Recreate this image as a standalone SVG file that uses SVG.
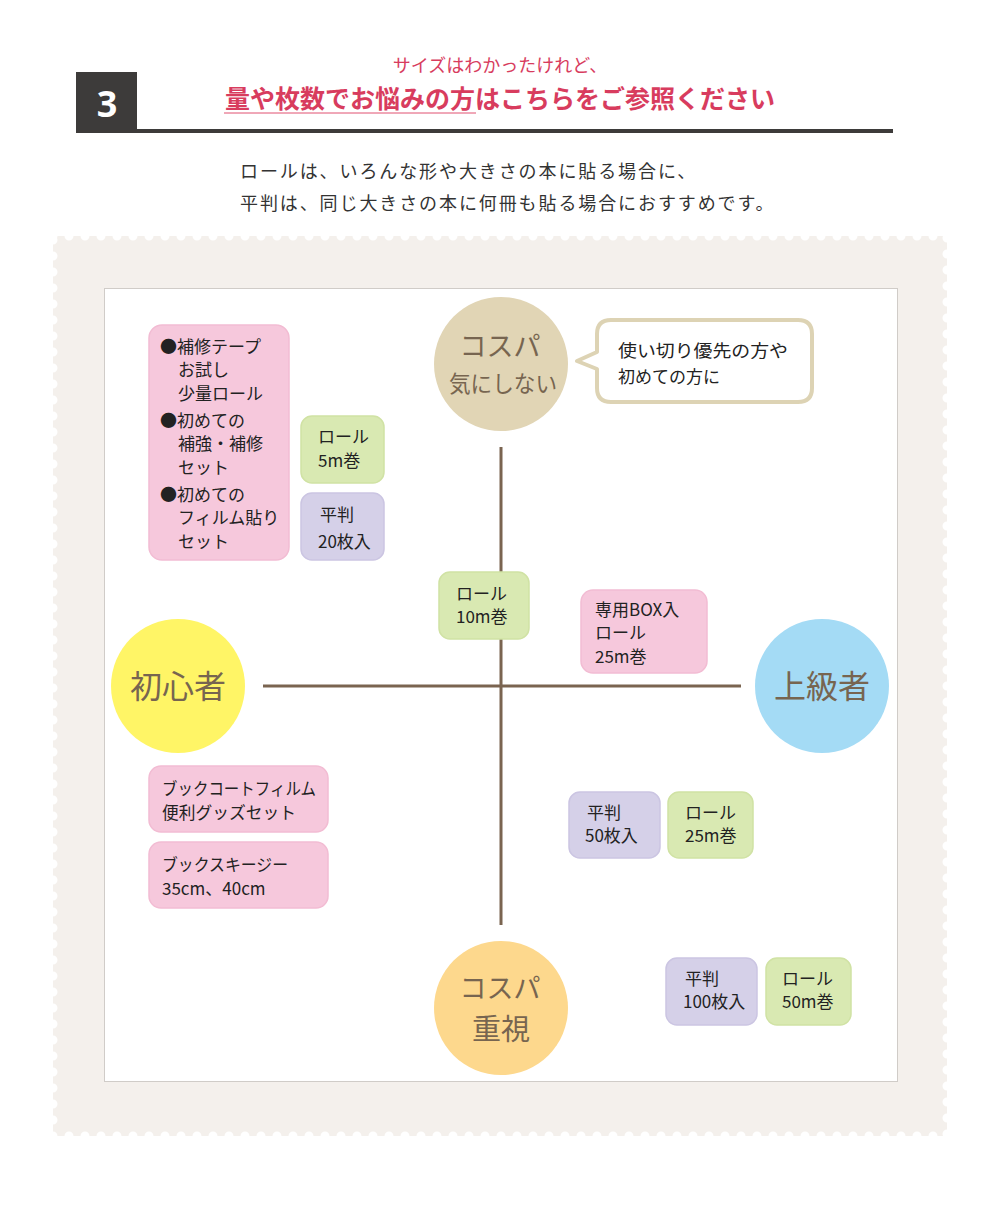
<svg xmlns="http://www.w3.org/2000/svg" width="1000" height="1231" viewBox="0 0 1000 1231">
<defs>
<style>
.jp{font-family:"Noto Sans CJK JP","Noto Sans",sans-serif}
.red{fill:#d83c5e}
.body{fill:#333;font-size:18px;letter-spacing:1.9px}
.bx{fill:#222;font-size:17px}
.ct{fill:#776550;text-anchor:middle}
.pink{fill:#f6c8dc;stroke:#f2bcd3;stroke-width:1.5}
.green{fill:#d9e9b2;stroke:#d0e2a4;stroke-width:1.5}
.purple{fill:#d5d0e8;stroke:#cbc5e2;stroke-width:1.5}
.axis{stroke:#7a6450;stroke-width:3}
</style>
</defs>
<rect width="1000" height="1231" fill="#fff"/>
<g id="header">
<rect x="76" y="72" width="61" height="61" fill="#3d3b3a"/>
<text x="107" y="117" text-anchor="middle" font-family="Noto Sans, sans-serif" font-weight="bold" font-size="36" fill="#fff">3</text>
<rect x="137" y="129" width="756" height="4" fill="#3d3b3a"/>
<text class="jp red" x="500" y="72" text-anchor="middle" font-size="18">サイズはわかったけれど、</text>
<text class="jp red" x="500" y="108" text-anchor="middle" font-size="25" font-weight="bold">量や枚数でお悩みの方はこちらをご参照ください</text>
<line x1="224" y1="113" x2="476" y2="113" stroke="#e05070" stroke-width="1"/>
</g>
<g id="intro" class="jp body">
<text x="240" y="178">ロールは、いろんな形や大きさの本に貼る場合に、</text>
<text x="240" y="210">平判は、同じ大きさの本に何冊も貼る場合におすすめです。</text>
</g>
<g id="frame">
<rect x="53" y="236" width="894" height="900" fill="#f4f0ec"/>
<rect x="53" y="236" width="894" height="900" fill="none" stroke="#fff" stroke-width="9" stroke-linecap="round" stroke-dasharray="0 16"/>
<rect x="104.5" y="288.5" width="793" height="793" fill="#fff" stroke="#d0ccc8" stroke-width="1"/>
</g>
<g id="connectors">
<line class="axis" x1="501" y1="447" x2="501" y2="925"/>
<line class="axis" x1="263" y1="686" x2="741" y2="686"/>
</g>
<g id="node-cospa-top" class="jp">
<circle cx="501" cy="364" r="67" fill="#e1d5b5"/>
<text class="ct" x="500" y="356" font-size="27">コスパ</text>
<text class="ct" x="503" y="392" font-size="23" textLength="108" lengthAdjust="spacingAndGlyphs">気にしない</text>
</g>
<g id="node-bubble" class="jp">
<path d="M611 320 H798 Q812 320 812 334 V388 Q812 402 798 402 H611 Q597 402 597 388 V369 L577 361 L597 352 V334 Q597 320 611 320 Z" fill="#fff" stroke="#ddd3b4" stroke-width="4" stroke-linejoin="round"/>
<text class="bx" x="618" y="357" textLength="170" lengthAdjust="spacingAndGlyphs">使い切り優先の方や</text>
<text class="bx" x="618" y="383">初めての方に</text>
</g>
<g id="node-beginner" class="jp">
<circle cx="178" cy="686" r="67" fill="#fff566"/>
<text class="ct" x="178" y="698" font-size="32">初心者</text>
</g>
<g id="node-advanced" class="jp">
<circle cx="822" cy="686" r="67" fill="#a4dbf5"/>
<text class="ct" x="822" y="698" font-size="32">上級者</text>
</g>
<g id="node-cospa-bottom" class="jp">
<circle cx="501" cy="1008" r="67" fill="#fdd88d"/>
<text class="ct" x="500" y="998" font-size="27">コスパ</text>
<text class="ct" x="501" y="1040" font-size="29">重視</text>
</g>
<g id="node-sets" class="jp bx">
<rect class="pink" x="149" y="325" width="140" height="235" rx="13"/>
<text x="160" y="353">●補修テープ</text>
<text x="178" y="376">お試し</text>
<text x="178" y="400">少量ロール</text>
<text x="160" y="427">●初めての</text>
<text x="178" y="450">補強・補修</text>
<text x="178" y="474">セット</text>
<text x="160" y="501">●初めての</text>
<text x="178" y="524">フィルム貼り</text>
<text x="178" y="548">セット</text>
</g>
<g id="node-roll5" class="jp bx">
<rect class="green" x="301" y="416" width="83" height="67" rx="11"/>
<text x="318" y="443">ロール</text>
<text x="318" y="467">5m巻</text>
</g>
<g id="node-flat20" class="jp bx">
<rect class="purple" x="301" y="493" width="83" height="67" rx="11"/>
<text x="320" y="521">平判</text>
<text x="318" y="548">20枚入</text>
</g>
<g id="node-roll10" class="jp bx">
<rect class="green" x="439" y="572" width="90" height="67" rx="11"/>
<text x="456" y="600">ロール</text>
<text x="456" y="623">10m巻</text>
</g>
<g id="node-box25" class="jp bx">
<rect class="pink" x="581" y="590" width="126" height="83" rx="12"/>
<text x="595" y="616">専用BOX入</text>
<text x="595" y="639">ロール</text>
<text x="595" y="663">25m巻</text>
</g>
<g id="node-bookcoat" class="jp bx">
<rect class="pink" x="149" y="766" width="179" height="66" rx="12"/>
<text x="162" y="795" textLength="154" lengthAdjust="spacingAndGlyphs">ブックコートフィルム</text>
<text x="162" y="819" textLength="134" lengthAdjust="spacingAndGlyphs">便利グッズセット</text>
</g>
<g id="node-squeegee" class="jp bx">
<rect class="pink" x="149" y="842" width="179" height="66" rx="12"/>
<text x="162" y="871" textLength="126" lengthAdjust="spacingAndGlyphs">ブックスキージー</text>
<text x="162" y="895">35cm、40cm</text>
</g>
<g id="node-flat50" class="jp bx">
<rect class="purple" x="569" y="792" width="91" height="66" rx="11"/>
<text x="587" y="819">平判</text>
<text x="585" y="842">50枚入</text>
</g>
<g id="node-roll25" class="jp bx">
<rect class="green" x="668" y="792" width="85" height="66" rx="11"/>
<text x="685" y="819">ロール</text>
<text x="685" y="842">25m巻</text>
</g>
<g id="node-flat100" class="jp bx">
<rect class="purple" x="666" y="958" width="91" height="67" rx="11"/>
<text x="685" y="985">平判</text>
<text x="683" y="1008">100枚入</text>
</g>
<g id="node-roll50" class="jp bx">
<rect class="green" x="766" y="958" width="85" height="67" rx="11"/>
<text x="782" y="985">ロール</text>
<text x="782" y="1008">50m巻</text>
</g>
</svg>
